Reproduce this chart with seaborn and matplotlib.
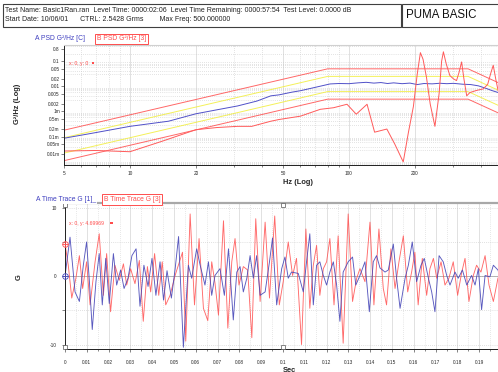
import matplotlib
matplotlib.use("Agg")
import matplotlib.pyplot as plt
import seaborn as sns
from matplotlib.patches import Rectangle
from matplotlib.ticker import FixedLocator, NullFormatter, LogLocator

# ---- PSD reference profile and tolerance lines ----
profile_hz = [5, 80, 350, 500]
abort_hi = [1.8e-4, 0.05, 0.05, 0.012]
alarm_hi = [9e-5, 0.025, 0.025, 0.006]
alarm_lo = [2.2e-5, 0.0062, 0.0062, 0.0015]
abort_lo = [1.1e-5, 0.0031, 0.0031, 0.00075]

# ---- A PSD (control channel) ----
psd_a_hz = [5, 7, 10, 15, 20, 25, 31, 38, 44, 48, 55, 60, 70, 82, 90, 100,
            110, 120, 130, 140, 150, 160, 175, 190, 205, 220, 240, 260, 280,
            300, 330, 360, 390, 420, 450, 480]
psd_a = [8.6e-5, 1.45e-4, 2.56e-4, 4.1e-4, 8.1e-4, 1.17e-3, 1.66e-3, 2.6e-3,
         4.2e-3, 4.6e-3, 5.9e-3, 6.7e-3, 9.1e-3, 0.0125, 0.0130, 0.0128,
         0.0138, 0.0145, 0.0135, 0.0142, 0.0130, 0.0138, 0.0128, 0.0135,
         0.0118, 0.0130, 0.0126, 0.0133, 0.0128, 0.0132, 0.0122, 0.0118,
         0.0105, 0.0085, 0.0068, 0.0057]

# ---- B PSD (response channel) ----
psd_b_hz = [5, 7, 10, 14, 20, 25, 31, 36, 44, 48, 60, 74, 85, 98, 108, 121,
            131, 149, 162, 177, 187, 197, 205, 212, 218, 226, 235, 247, 258,
            265, 270, 278, 289, 300, 310, 318, 327, 335, 345, 357, 385, 410,
            430, 445, 456, 468, 480]
psd_b = [2.66e-5, 2.8e-5, 2.5e-5, 6.5e-5, 1.88e-4, 2.3e-4, 2.56e-4, 2.56e-4,
         4.1e-4, 4.8e-4, 6.5e-4, 1.22e-3, 1.41e-3, 1.94e-3, 7.8e-4, 1.94e-3,
         1.5e-4, 2.0e-4, 5e-5, 9.8e-6, 1.5e-4, 1.6e-3, 0.03, 0.22, 0.12,
         0.023, 0.002, 2.56e-4, 0.005, 0.1, 0.238, 0.08, 0.027, 0.02, 0.017,
         0.035, 0.094, 0.02, 0.0042, 0.0057, 0.007, 0.0079, 0.012, 0.035,
         0.069, 0.02, 0.0067]

psd_xticks = [5, 10, 20, 50, 100, 200, 500]
psd_xminor = [6, 7, 8, 9, 30, 40, 60, 70, 80, 90, 300, 400]
psd_yticks = [0.3, 0.1, 0.05, 0.02, 0.01, 0.005, 0.002, 1e-3, 5e-4, 2e-4,
              1e-4, 5e-5, 2e-5]
psd_ylabels = ['0.8', '0.1', '0.05', '0.02', '0.01', '0.005', '0.002', '1m',
               '0.5m', '0.2m', '0.1m', '0.05m', '0.01m']

# ---- time traces (sec, G) ----
trace_a_t = [0, .0023, .0046, .0066, .0084, .0099, .0112, .0125, .0142, .0157,
             .0171, .0187, .0203, .0222, .0237, .0255, .0271, .0289, .0307,
             .0326, .0344, .0362, .0381, .0399, .0417, .0436, .0452, .0468,
             .0488, .0505, .0521, .0543, .0566, .0581, .0604, .0620, .0642,
             .0658, .0673, .0688, .0711, .0731, .0750, .0772, .0788, .0803,
             .0818, .0834, .0849, .0864, .0879, .0895, .0918, .0938, .0952,
             .0971, .0994, .1009, .1024, .1039, .1070, .1093, .1108, .1123,
             .1139, .1154, .1169, .1185, .1200, .1215, .1231, .1246, .1261,
             .1276, .1299, .1319, .1334, .1353, .1376, .1396, .1414, .1429,
             .1445, .1468, .1483, .1506, .1521, .1537, .1560, .1575, .1593,
             .1613, .1633, .1648, .1667, .1682, .1697, .1716, .1735, .1751,
             .1766, .1789, .1804, .1823, .1843, .1865, .1881, .1896, .1911,
             .1927, .1949, .1965, .1986, .2000]
trace_a = [0, 5.7, -2.3, -3.7, 1.6, 5.0, -0.8, -7.8, -0.8, 3.3,
           -4.2, 2.6, -4.0, 3.3, -1.3, 0.9, -1.8, -0.3, 3.0,
           4.0, -4.4, 1.6, -1.5, 2.6, -2.8, 2.1, -3.5, 0.8,
           -3.2, 1.0, 5.8, -10.4, 1.6, -0.3, 4.0, 1.6, -1.3,
           2.1, -2.8, 0.1, 1.1, -2.8, 4.0, -6.4, 0.6, 1.4,
           -2.3, -0.3, 3.0, -0.3, 3.0, -2.8, -2.3, 2.1, 5.6,
           -4.2, 1.1, 2.8, -0.3, 0.6, 0.4, -2.3, 2.1, 6.2,
           -4.2, 1.6, 2.1, 0.1, -1.3, 0.6, 2.1, -1.3, -6.6,
           0.6, 2.1, 2.8, -1.3, 0.1, 2.1, -5.2, 2.1, 3.0,
           1.2, 0.6, 0.9, 4.7, -0.3, -4.7, -0.3, 1.6, 5.0,
           -0.8, 1.6, 2.6, -0.3, -2.3, -5.2, 3.0, 2.1, 0.1,
           -1.3, 0.6, -0.3, 0.9, -1.3, 0.1, -1.3, 1.1, -4.9,
           0.1, -0.1, 1.6, 0.9, -0.5]

trace_b_t = [0, .0015, .0031, .0050, .0066, .0081, .0099, .0115, .0138, .0157,
             .0176, .0191, .0209, .0229, .0249, .0268, .0283, .0301, .0321,
             .0341, .0359, .0378, .0393, .0411, .0430, .0446, .0462, .0482,
             .0505, .0539, .0554, .0574, .0594, .0615, .0635, .0655, .0673,
             .0688, .0704, .0727, .0747, .0765, .0780, .0798, .0818, .0838,
             .0857, .0875, .0895, .0918, .0938, .0962, .0983, .1001, .1024,
             .1044, .1062, .1085, .1105, .1123, .1139, .1154, .1169, .1185,
             .1200, .1215, .1234, .1253, .1276, .1299, .1319, .1338, .1353,
             .1376, .1399, .1417, .1440, .1460, .1475, .1495, .1514, .1532,
             .1552, .1572, .1590, .1605, .1620, .1639, .1659, .1674, .1690,
             .1705, .1725, .1743, .1761, .1781, .1801, .1820, .1835, .1853,
             .1873, .1888, .1908, .1927, .1945, .1965, .1986, .2000]
trace_b = [4.7, 1.6, -3.2, -0.3, 3.0, -1.8, 2.1, -4.2, 2.1, 6.2,
           -2.8, 3.3, -5.2, 1.6, -0.6, 1.8, -1.3, 1.1, -1.1,
           2.3, -6.6, 1.4, -2.3, 3.3, -2.8, 2.1, -4.2, -2.8,
           0.1, 3.5, -9.5, 9.1, -4.2, 5.5, -4.7, -6.5, 2.1,
           -1.0, -5.7, 8.1, -7.6, 2.1, 5.5, -1.3, 1.4, 0.9,
           -9.0, 8.4, -3.7, 7.9, -3.2, 8.8, -4.2, -0.8, 5.0,
           0.1, 2.6, -10.0, 6.9, -4.7, 1.6, 4.5, -2.8, 1.1,
           2.1, 5.5, -4.2, 5.9, -9.8, 9.1, -3.7, -0.3, 1.1,
           -0.8, 7.9, -4.2, 6.9, -1.8, -4.2, 4.0, -1.8, 2.1,
           5.9, -2.3, 0.6, 3.5, -4.2, 2.6, -2.8, 1.1, 2.6,
           -0.3, 2.1, -1.3, -0.3, 2.1, -2.8, 0.6, 2.6, -3.7,
           0.1, 1.6, 0.6, 3.0, -1.3, -3.7, -0.3, 0.5]

time_xticks = [i / 100 for i in range(21)]
time_xminor = [i / 200 for i in range(1, 41, 2)]
cursor_t = [0, 0.1]

W, H = 498, 372
RED = '#ff4d4d'
BLUE = '#4747b8'
YELLOW = '#f2ee3c'

sns.set_style("white")
plt.rcParams['font.family'] = ['Liberation Sans', 'DejaVu Sans']

fig = plt.figure(figsize=(W / 100, H / 100), dpi=100)


def fx(x):
    return x / W


def fy(y):
    return 1 - y / H


def ftext(x, y, s, **kw):
    return fig.text(fx(x), fy(y), s, **kw)


# ---- header boxes ----
fig.add_artist(Rectangle((fx(3), fy(27)), 398 / W, 23 / H, transform=fig.transFigure,
                         fill=False, lw=0.8, ec='#404040'))
fig.add_artist(Rectangle((fx(402), fy(27)), 100 / W, 23 / H, transform=fig.transFigure,
                         fill=False, lw=0.8, ec='#404040'))
ftext(5, 10, "Test Name: Basic1Ran.ran  Level Time: 0000:02:06  Level Time Remaining: "
             "0000:57:54  Test Level: 0.0000 dB", fontsize=5.0, va='center', color='#222222')
ftext(5, 19.5, "Start Date: 10/06/01      CTRL: 2.5428 Grms        Max Freq: 500.000000",
      fontsize=5.0, va='center', color='#222222')
ftext(406, 15, "PUMA BASIC", fontsize=8.3, va='center', color='#111111')

# ---- PSD plot ----
ax1 = fig.add_axes([fx(64), fy(165), (502 - 64) / W, (165 - 45) / H])
ax1.set_xscale('log')
ax1.set_yscale('log')
for vals, col in [(abort_hi, RED), (alarm_hi, YELLOW), (alarm_lo, YELLOW), (abort_lo, RED)]:
    sns.lineplot(x=profile_hz, y=vals, ax=ax1, color=col, lw=0.7, alpha=0.85)
sns.lineplot(x=psd_a_hz, y=psd_a, ax=ax1, color='#5050c8', lw=0.7, estimator=None)
sns.lineplot(x=psd_b_hz, y=psd_b, ax=ax1, color='#ff5a5a', lw=0.7, estimator=None)
ax1.set_xlim(5, 500)
ax1.set_ylim(7.4e-6, 0.444)
ax1.xaxis.set_major_locator(FixedLocator(psd_xticks))
ax1.set_xticklabels([str(v) for v in psd_xticks])
ax1.xaxis.set_minor_locator(FixedLocator(psd_xminor))
ax1.xaxis.set_minor_formatter(NullFormatter())
ax1.yaxis.set_major_locator(FixedLocator(psd_yticks))
ax1.set_yticklabels(psd_ylabels)
ax1.yaxis.set_minor_locator(LogLocator(base=10, subs=range(1, 10), numticks=20))
ax1.yaxis.set_minor_formatter(NullFormatter())
ax1.grid(which='major', axis='x', color='#d4d4d4', lw=0.5, ls='-')
ax1.grid(which='minor', axis='x', color='#c8c8c8', lw=0.5, ls=(0, (1, 2)))
ax1.grid(which='minor', axis='y', color='#c8c8c8', lw=0.5, ls=(0, (1, 2)))
ax1.tick_params(axis='x', which='major', labelsize=3.4, length=2, width=0.4, pad=2.5, direction='out')
ax1.tick_params(axis='x', which='minor', length=1.5, width=0.4, direction='out')
ax1.tick_params(axis='y', which='major', labelsize=3.4, length=2, width=0.4, pad=1, direction='out')
ax1.tick_params(axis='y', which='minor', length=0)
ax1.tick_params(bottom=True, left=True, which='both')
for s in ['left', 'bottom']:
    ax1.spines[s].set_color('#202020')
    ax1.spines[s].set_linewidth(0.7)
ax1.spines['top'].set_color('#d0d0d0')
ax1.spines['right'].set_visible(False)
ax1.set_xlabel('')
ax1.set_ylabel('')

ftext(298, 182, "Hz (Log)", fontsize=5.4, fontweight='bold', ha='center', va='center')
ftext(17.5, 104, "G²/Hz (Log)", fontsize=5.4, fontweight='bold', ha='center', va='center',
      rotation=90)
ftext(35, 39, "A PSD G²/Hz [C]", fontsize=4.9, color='#4040c0', va='center')
ftext(97, 39, "B PSD G²/Hz [3]", fontsize=4.9, color=RED, va='center',
      bbox=dict(boxstyle='square,pad=0.25', fc='white', ec=RED, lw=0.7))
ftext(69, 64, "x: 0, y: 0", fontsize=3.7, color=RED, va='center')
fig.add_artist(Rectangle((fx(91.5), fy(64)), 2.5 / W, 2.5 / H, transform=fig.transFigure,
                         color=RED, lw=0))

# ---- time trace plot ----
ax2 = fig.add_axes([fx(65), fy(349), (501 - 65) / W, (349 - 203) / H])
sns.lineplot(x=trace_b_t, y=trace_b, ax=ax2, color='#ff5050', lw=0.65, alpha=0.85,
             estimator=None, sort=False)
sns.lineplot(x=trace_a_t, y=trace_a, ax=ax2, color=BLUE, lw=0.65, alpha=0.9,
             estimator=None, sort=False)
ax2.set_xlim(0, 0.2)
ax2.set_ylim(-10.65, 10.7)
ax2.set_xticks(time_xticks)
ax2.set_xticklabels([f"{v:g}" for v in time_xticks])
ax2.xaxis.set_minor_locator(FixedLocator(time_xminor))
ax2.set_yticks([-10, -5, 0, 5, 10])
ax2.set_yticklabels(['-10', '', '0', '', '10'])
ax2.grid(which='major', axis='x', color='#d4d4d4', lw=0.5, ls='-')
ax2.grid(which='minor', axis='x', color='#d0d0d0', lw=0.5, ls=(0, (1, 2)))
ax2.grid(which='major', axis='y', color='#c4c4c4', lw=0.5, ls=(0, (1, 2)))
ax2.axhline(0, color='#9a9a9a', lw=0.5, zorder=1)
ax2.tick_params(axis='x', which='major', labelsize=3.4, length=2, width=0.4, pad=6, direction='out')
ax2.tick_params(axis='x', which='minor', length=1.5, width=0.4, direction='out')
ax2.tick_params(axis='y', labelsize=3.4, length=2, width=0.4, pad=4, direction='out')
ax2.tick_params(bottom=True, left=True, which='both')
for s in ['left', 'bottom']:
    ax2.spines[s].set_color('#202020')
    ax2.spines[s].set_linewidth(0.7)
ax2.spines['top'].set_color('#a8a8a8')
ax2.spines['top'].set_linewidth(1.6)
ax2.spines['right'].set_visible(False)
ax2.set_xlabel('')
ax2.set_ylabel('')

# cursors
ax2.plot([cursor_t[0]], [trace_b[0]], marker='o', ms=4, mfc='none', mec=RED, mew=0.6,
         clip_on=False, zorder=5)
ax2.plot([cursor_t[0]], [trace_b[0]], marker='+', ms=5, color=RED, mew=0.6,
         clip_on=False, zorder=5)
ax2.plot([cursor_t[0]], [trace_a[0]], marker='o', ms=4, mfc='none', mec=BLUE, mew=0.6,
         clip_on=False, zorder=5)
ax2.plot([cursor_t[0]], [trace_a[0]], marker='+', ms=5, color=BLUE, mew=0.6,
         clip_on=False, zorder=5)
ylo, yhi = ax2.get_ylim()
for ct in cursor_t:
    ax2.plot([ct, ct], [ylo + 0.3, yhi - 0.25], ls='none', marker='s', ms=3.2,
             mfc='white', mec='#555555', mew=0.5, clip_on=False, zorder=6)

ftext(289, 367, "Sec", fontsize=5.4, fontweight='bold', ha='center', va='top')
ftext(19, 277, "G", fontsize=5.4, fontweight='bold', ha='center', va='center', rotation=90)
ftext(36, 199.5, "A Time Trace G [1]_", fontsize=4.9, color='#4040c0', va='center',
      bbox=dict(boxstyle='square,pad=0.1', fc='white', ec='none'))
ftext(104, 199.5, "B Time Trace G [3]", fontsize=4.9, color=RED, va='center',
      bbox=dict(boxstyle='square,pad=0.25', fc='white', ec=RED, lw=0.7))
ftext(69, 224, "x: 0, y: 4.69969", fontsize=3.7, color=RED, va='center')
fig.add_artist(Rectangle((fx(110), fy(224)), 2.5 / W, 2.5 / H, transform=fig.transFigure,
                         color=RED, lw=0))

fig.savefig('out.png', dpi=100)
